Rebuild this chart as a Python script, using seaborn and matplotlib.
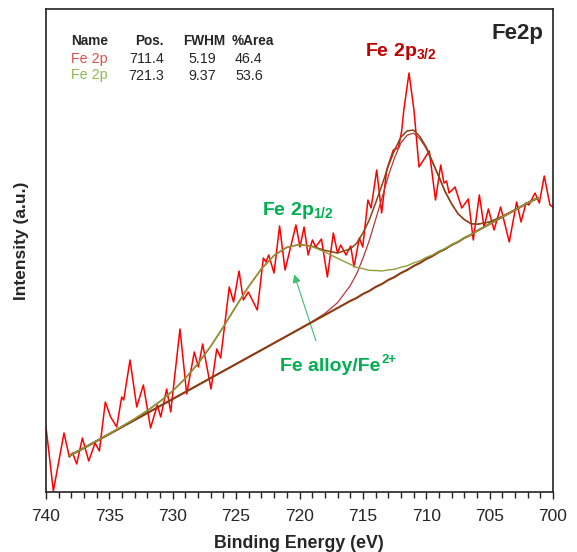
import pandas as pd
import matplotlib
matplotlib.use("Agg")
import matplotlib.pyplot as plt
import seaborn as sns

# raw Fe2p spectrum (binding energy, intensity in a.u.)
raw_be = [740.0, 739.42, 738.58, 738.16, 737.9, 737.58, 737.13, 736.63, 736.13, 735.79,
          735.32, 734.9, 734.42, 734.03, 733.87, 733.37, 732.84, 732.32, 731.75, 731.22,
          730.95, 730.48, 730.16, 729.43, 728.9, 728.3, 727.98, 727.64, 726.98, 726.53,
          726.22, 725.54, 725.2, 724.77, 724.43, 724.04, 723.33, 722.85, 722.64, 722.43,
          722.01, 721.57, 721.14, 720.28, 719.96, 719.64, 719.32, 718.98, 718.72, 718.27,
          717.8, 717.33, 717.0, 716.75, 716.33, 715.96, 715.7, 715.28, 715.01, 714.6,
          714.35, 713.91, 713.52, 713.12, 712.6, 712.2, 711.95, 711.77, 711.36, 710.97,
          710.57, 709.76, 709.27, 708.86, 708.6, 708.4, 708.2, 707.73, 707.2, 706.68,
          706.29, 705.81, 705.44, 705.1, 704.65, 704.13, 703.45, 702.87, 702.52, 702.13,
          701.9, 701.42, 701.08, 700.69, 700.24, 699.9]
raw_int = [65, 1, 59, 35, 39, 28, 54, 31, 49, 41,
           90, 75, 65, 95, 92, 132, 85, 107, 64, 87,
           75, 103, 80, 163, 98, 140, 125, 148, 103, 143,
           134, 205, 190, 221, 192, 200, 182, 234, 230, 237,
           219, 266, 222, 267, 245, 265, 237, 252, 245, 253,
           215, 259, 239, 247, 237, 246, 225, 254, 245, 292,
           284, 322, 279, 322, 342, 344, 360, 382, 419, 382,
           325, 341, 292, 327, 309, 311, 299, 305, 284, 293,
           252, 297, 265, 283, 262, 285, 250, 290, 270, 289,
           287, 299, 289, 316, 287, 284]

# fit grid: background and the two components (height above background)
fit_be = [738.2, 737, 736, 735, 734, 733, 732, 731, 730, 729, 728, 727, 726, 725, 724,
          723, 722, 721, 720, 719, 718, 717, 716,
          715.5, 715, 714.5, 714, 713.5, 713, 712.5, 712, 711.5, 711, 710.5, 710,
          709.5, 709, 708.5, 708, 707.5, 707, 706.5, 706,
          705, 704, 703, 702, 701.2]
background = [36, 44, 51, 58, 65, 72, 79, 86, 93, 100, 107, 114, 121, 128, 135,
              142, 149, 156, 163, 170, 177, 184, 191,
              194, 198, 201, 205, 208, 212, 215, 219, 222, 226, 229, 233,
              236, 240, 243, 247, 250, 254, 257, 261,
              268, 275, 282, 289, 294]
peak_12 = [0, 0, 0.1, 0.2, 0.6, 1.2, 2.4, 4.6, 8.1, 13.7, 21.5, 31.8, 44.3, 57.8, 70.7,
           81.2, 87.6, 88.7, 84.4, 75.3, 63.1, 49.7, 36.7,
           30.7, 25.4, 20.6, 16.5, 13.0, 10.1, 7.7, 5.8, 4.3, 3.1, 2.2, 1.6,
           1.1, 0.8, 0.5, 0.3, 0.2, 0.1, 0.1, 0,
           0, 0, 0, 0, 0]
peak_32 = [0, 0, 0, 0, 0, 0, 0, 0, 0, 0, 0, 0, 0, 0, 0,
           0, 0, 0, 0.1, 0.4, 1.5, 5.3, 15.3,
           23.9, 35.5, 50.3, 67.3, 85.7, 103.7, 119.2, 130.1, 134.9, 132.8, 124.2, 110.4,
           93.1, 74.7, 56.8, 41.0, 28.2, 18.4, 11.4, 6.7,
           2.0, 0.5, 0.1, 0, 0]

# fit table
comp_names = ["Fe 2p", "Fe 2p"]
comp_pos = ["711.4", "721.3"]
comp_fwhm = ["5.19", "9.37"]
comp_area = ["46.4", "53.6"]
comp_colors = ["#E0504D", "#8DBB4F"]

sns.set_style("white")
plt.rcParams["font.family"] = ["Liberation Sans", "DejaVu Sans"]
plt.rcParams["mathtext.fontset"] = "custom"
plt.rcParams["mathtext.rm"] = "Liberation Sans"
plt.rcParams["mathtext.bf"] = "Liberation Sans:bold"

raw = pd.DataFrame({"be": raw_be, "int": raw_int})
fit = pd.DataFrame({"be": fit_be, "bg": background, "p12": peak_12, "p32": peak_32})
fit["c12"] = fit["bg"] + fit["p12"]
fit["c32"] = fit["bg"] + fit["p32"]
fit["env"] = fit["bg"] + fit["p12"] + fit["p32"]

fig = plt.figure(figsize=(5.77, 5.52), dpi=100)
ax = fig.add_axes([46 / 577, 1 - 492 / 552, 507 / 577, 483 / 552])

sns.lineplot(data=raw, x="be", y="int", sort=False, color="#FF0000", lw=1.1, ax=ax, zorder=2)
sns.lineplot(data=fit, x="be", y="c32", sort=False, color="#B8373A", lw=0.9, ax=ax, zorder=3)
sns.lineplot(data=fit, x="be", y="env", sort=False, color="#8B4513", lw=1.1, ax=ax, zorder=4)
sns.lineplot(data=fit, x="be", y="bg", sort=False, color="#8B3A0F", lw=1.5, ax=ax, zorder=5)
sns.lineplot(data=fit, x="be", y="c12", sort=False, color="#8E9E3A", lw=1.0, ax=ax, zorder=6)

ax.set_xlim(740, 700)
ax.set_ylim(0, 483)
ax.set_yticks([])
ax.set_xticks(range(740, 699, -5))
ax.set_xticks(range(740, 699, -1), minor=True)
ax.tick_params(axis="x", which="major", direction="out", length=5, width=1, labelsize=12.5, pad=7,
               bottom=True, color="#222222")
ax.tick_params(axis="x", which="minor", direction="out", length=4, width=1, bottom=True, color="#222222")
ax.set_xlabel("")
ax.set_ylabel("")
for sp in ax.spines.values():
    sp.set_color("#222222")
    sp.set_linewidth(1.2)

fig.text(299 / 577, 1 - 544 / 552, "Binding Energy (eV)", ha="center", va="center",
         fontsize=12.8, fontweight="bold")
fig.text(22 / 577, 1 - 241 / 552, "Intensity (a.u.)", ha="center", va="center",
         rotation=90, fontsize=12.5, fontweight="bold")

# fit table in the upper left corner
def fx(px):
    return (px - 46) / 507

def fy(py):
    return (492 - py) / 483

ax.text(fx(71), fy(41), "Name", transform=ax.transAxes, fontsize=9.8, fontweight="bold", va="center")
ax.text(fx(164), fy(41), "Pos.", transform=ax.transAxes, fontsize=9.8, fontweight="bold", va="center", ha="right")
ax.text(fx(204), fy(41), "FWHM", transform=ax.transAxes, fontsize=9.8, fontweight="bold", va="center", ha="center")
ax.text(fx(232), fy(41), "%Area", transform=ax.transAxes, fontsize=9.8, fontweight="bold", va="center")
for i, row_y in enumerate([59, 75.5]):
    ax.text(fx(71), fy(row_y), comp_names[i], transform=ax.transAxes, fontsize=10.3, va="center",
            color=comp_colors[i])
    ax.text(fx(164), fy(row_y), comp_pos[i], transform=ax.transAxes, fontsize=10.3, va="center", ha="right")
    ax.text(fx(202), fy(row_y), comp_fwhm[i], transform=ax.transAxes, fontsize=10.3, va="center", ha="center")
    ax.text(fx(235), fy(row_y), comp_area[i], transform=ax.transAxes, fontsize=10.3, va="center")

ax.text(fx(517), fy(33), "Fe2p", transform=ax.transAxes, fontsize=16, fontweight="bold",
        ha="center", va="center")
ax.text(fx(365), fy(55.7), r"Fe 2p$_{\mathbf{3/2}}$", transform=ax.transAxes, fontsize=14,
        fontweight="bold", color="#C00000", va="baseline")
ax.text(fx(262), fy(215), r"Fe 2p$_{\mathbf{1/2}}$", transform=ax.transAxes, fontsize=14,
        fontweight="bold", color="#00B050", va="baseline")
alloy = ax.text(fx(280), fy(371), "Fe alloy/Fe", transform=ax.transAxes, fontsize=14,
                fontweight="bold", color="#00B050", va="baseline")
ax.annotate("2+", xy=(1.01, 0.9), xycoords=alloy, fontsize=9.5, fontweight="bold",
            color="#00B050", ha="left", va="center")
ax.annotate("", xy=(720.49, 220.3), xytext=(718.64, 148.7),
            arrowprops=dict(arrowstyle="-|>", color="#3CC070", lw=0.8, mutation_scale=12))

fig.savefig("out.png", dpi=100)
